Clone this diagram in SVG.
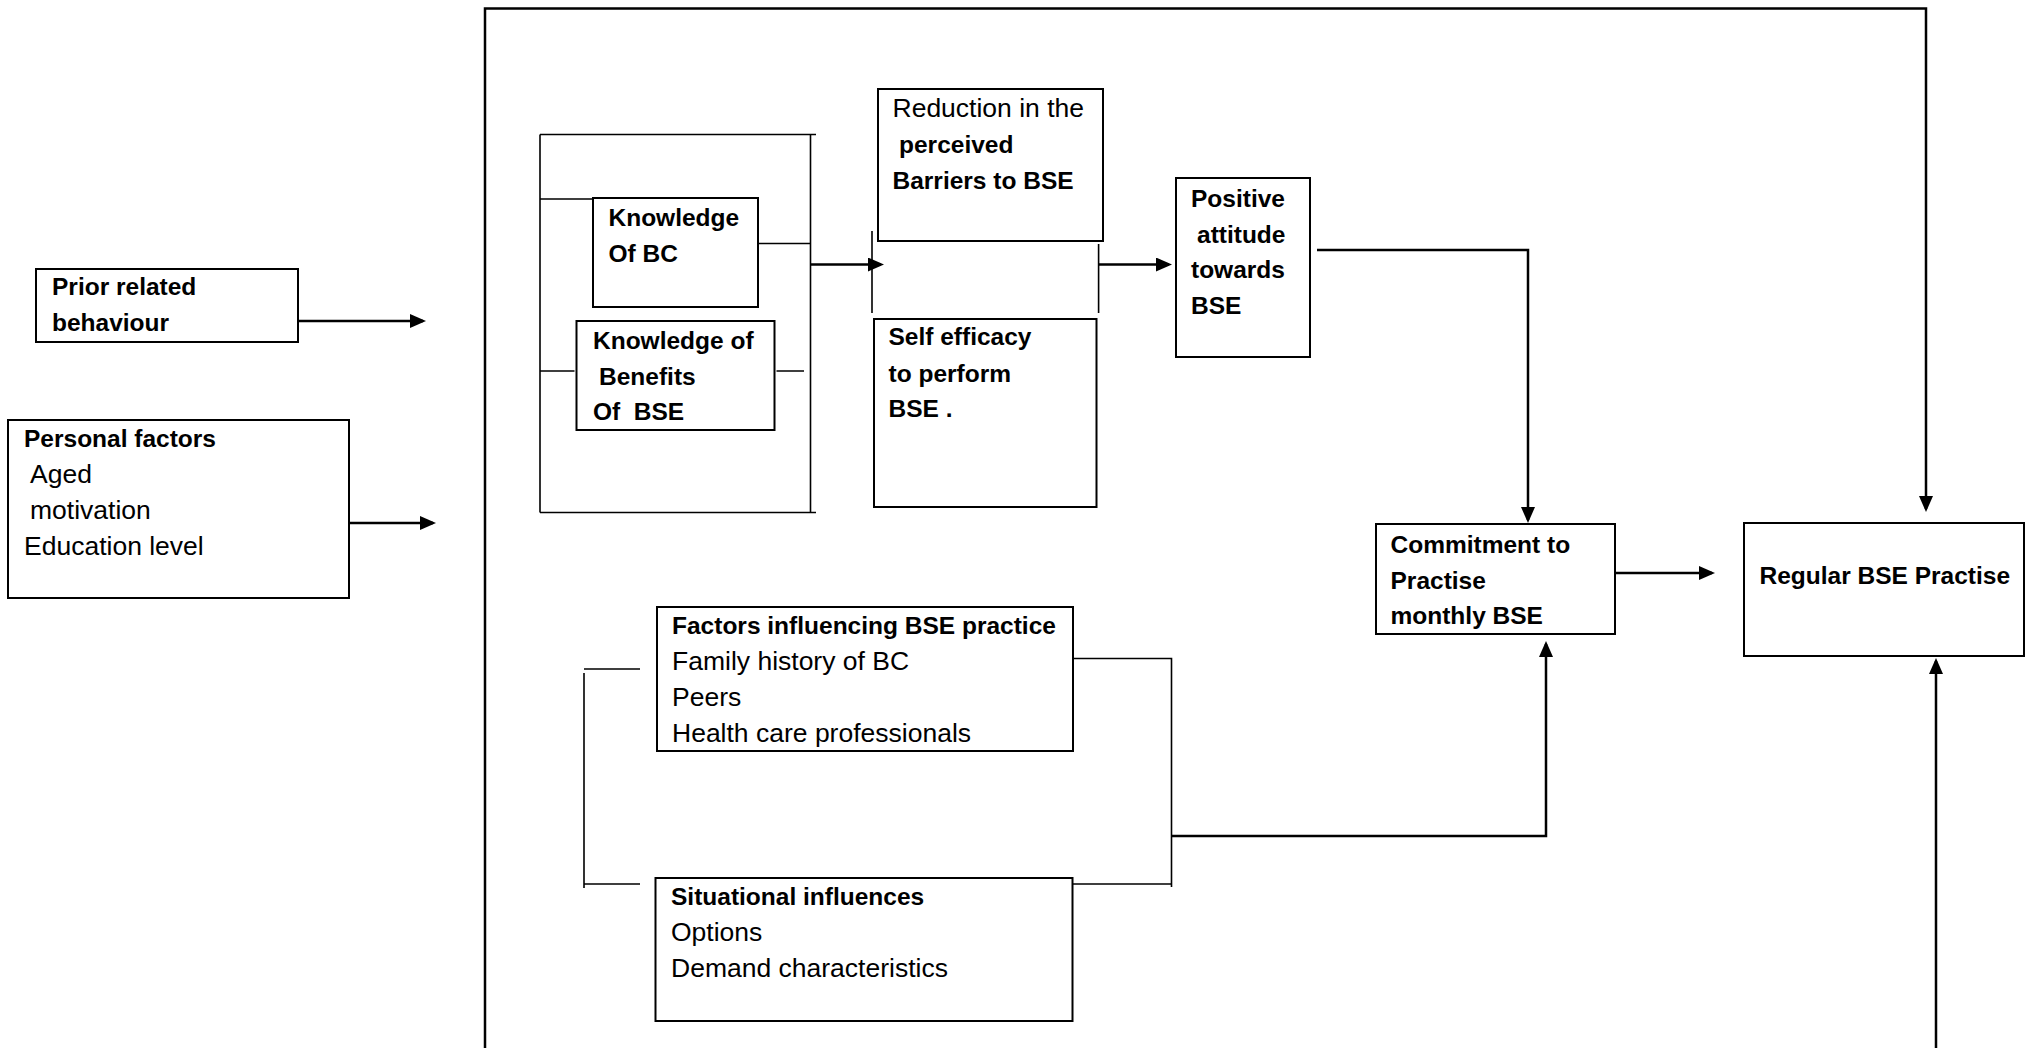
<svg xmlns="http://www.w3.org/2000/svg" width="2029" height="1048" viewBox="0 0 2029 1048">
<style>
.box{fill:#fff;stroke:#000;stroke-width:2}
.t{font-family:"Liberation Sans",Arial,sans-serif;font-size:26.5px;fill:#000}
.b{font-family:"Liberation Sans",Arial,sans-serif;font-size:24.5px;font-weight:bold;fill:#000}
.ln{fill:none;stroke:#000;stroke-width:2.5}
.thin{fill:none;stroke:#000;stroke-width:1.6}
</style>
<defs>
<marker id="ah" markerUnits="userSpaceOnUse" markerWidth="17" markerHeight="15" refX="13" refY="7" orient="auto">
<path d="M0,0 L16,7 L0,14 z" fill="#000"/>
</marker>
</defs>
<rect width="2029" height="1048" fill="#fff"/>
<g id="connectors">
<line class="ln" x1="298" y1="321" x2="423" y2="321" marker-end="url(#ah)"/>
<line class="ln" x1="349" y1="523" x2="433" y2="523" marker-end="url(#ah)"/>
<path class="ln" d="M485,1048 V8.5 H1926 V509" marker-end="url(#ah)"/>
<line class="ln" x1="810" y1="264.5" x2="881" y2="264.5" marker-end="url(#ah)"/>
<line class="ln" x1="1099" y1="264.5" x2="1169" y2="264.5" marker-end="url(#ah)"/>
<path class="ln" d="M1317,250 H1528 V520" marker-end="url(#ah)"/>
<line class="ln" x1="1615" y1="573" x2="1712" y2="573" marker-end="url(#ah)"/>
<path class="ln" d="M1172,836 H1546 V644" marker-end="url(#ah)"/>
<line class="ln" x1="1936" y1="1048" x2="1936" y2="661" marker-end="url(#ah)"/>
<path class="thin" d="M540,134.5 H816 M540,512.5 H816 M540,134.5 V512.5 M810.5,134.5 V512.5"/>
<path class="thin" d="M540,199 H598 M758,243.5 H810.5 M540,371 H574.5 M776.5,371 H804"/>
<path class="thin" d="M872,231 V313 M1098.6,244 V313"/>
<path class="thin" d="M584,669 H640 M584,673 V888 M584,884 H640"/>
<path class="thin" d="M1073,658.5 H1171.5 V887 M1072,884 H1171.5"/>
</g>
<g id="prior">
<rect class="box" x="36" y="269" width="262" height="73"/>
<text class="b" x="52" y="295">Prior related</text>
<text class="b" x="52" y="331">behaviour</text>
</g>
<g id="personal">
<rect class="box" x="8" y="420" width="341" height="178"/>
<text class="b" x="24" y="447">Personal factors</text>
<text class="t" x="30" y="483">Aged</text>
<text class="t" x="30" y="519">motivation</text>
<text class="t" x="24" y="555">Education level</text>
</g>
<g id="knowledge-bc">
<rect class="box" x="593" y="198" width="165" height="109"/>
<text class="b" x="608.5" y="226">Knowledge</text>
<text class="b" x="608.5" y="262">Of BC</text>
</g>
<g id="knowledge-benefits">
<rect class="box" x="576.5" y="321" width="198" height="109"/>
<text class="b" x="593" y="348.5">Knowledge of</text>
<text class="b" x="599" y="385">Benefits</text>
<text class="b" x="593" y="420" xml:space="preserve">Of  BSE</text>
</g>
<g id="barriers">
<rect class="box" x="878" y="89" width="225" height="152"/>
<text class="t" x="892.5" y="117">Reduction in the</text>
<text class="b" x="899" y="153">perceived</text>
<text class="b" x="892.5" y="188.5">Barriers to BSE</text>
</g>
<g id="self-efficacy">
<rect class="box" x="874" y="319" width="222.5" height="188"/>
<text class="b" x="888.5" y="345">Self efficacy</text>
<text class="b" x="888.5" y="382">to perform</text>
<text class="b" x="888.5" y="417">BSE .</text>
</g>
<g id="attitude">
<rect class="box" x="1176" y="178" width="134" height="179"/>
<text class="b" x="1191" y="207">Positive</text>
<text class="b" x="1197" y="242.5">attitude</text>
<text class="b" x="1191" y="278">towards</text>
<text class="b" x="1191" y="313.5">BSE</text>
</g>
<g id="commitment">
<rect class="box" x="1376" y="524" width="239" height="110"/>
<text class="b" x="1390.5" y="553">Commitment to</text>
<text class="b" x="1390.5" y="588.5">Practise</text>
<text class="b" x="1390.5" y="624">monthly BSE</text>
</g>
<g id="regular">
<rect class="box" x="1744" y="523" width="280" height="133"/>
<text class="b" x="1759.5" y="584">Regular BSE Practise</text>
</g>
<g id="factors">
<rect class="box" x="657" y="607" width="416" height="144"/>
<text class="b" x="672" y="633.5">Factors influencing BSE practice</text>
<text class="t" x="672" y="670">Family history of BC</text>
<text class="t" x="672" y="706">Peers</text>
<text class="t" x="672" y="742">Health care professionals</text>
</g>
<g id="situational">
<rect class="box" x="655.5" y="878" width="417" height="143"/>
<text class="b" x="671" y="904.5">Situational influences</text>
<text class="t" x="671" y="941">Options</text>
<text class="t" x="671" y="977">Demand characteristics</text>
</g>
</svg>
